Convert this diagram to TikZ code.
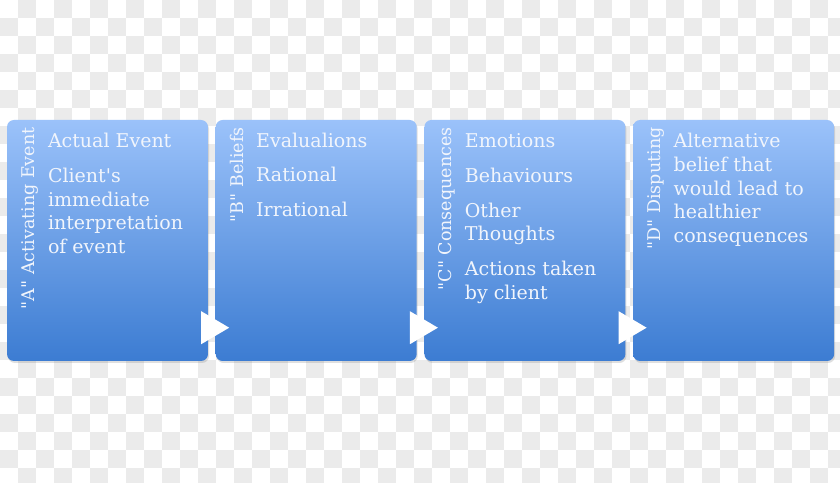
\documentclass[tikz,border=0pt]{standalone}
\usepackage{fontspec}
\setmainfont{DejaVu Serif}
\usetikzlibrary{positioning,calc,shadows}
\definecolor{boxtop}{RGB}{155,194,250}
\definecolor{boxbot}{RGB}{60,124,210}
\definecolor{labeltext}{RGB}{241,245,252}
\definecolor{checkgray}{RGB}{235,235,235}
% first-line baseline for stacked lines
\newcommand{\stack}[1]{\begin{tabular}[t]{@{}l@{}}#1\end{tabular}}

\begin{document}
\begin{tikzpicture}[
  x=1pt, y=1pt,
  stage/.style={rounded corners=7pt, minimum width=201pt, minimum height=241pt,
                inner sep=0pt, top color=boxtop, bottom color=boxbot,
                drop shadow={shadow xshift=1pt, shadow yshift=-2pt, opacity=.25}},
  tag/.style={rotate=90, anchor=base east, inner sep=0pt, text=labeltext,
              font=\fontsize{17.5}{21}\selectfont},
  items/.style={anchor=base west, inner sep=0pt, text=labeltext,
                font=\fontsize{19}{23.7}\selectfont},
  tri/.style={fill=white}
]
  \useasboundingbox (0,0) rectangle (840,482);
  % transparent backdrop
  \begin{scope}
    \clip (0,0) rectangle (840,482);
    \fill[white] (0,0) rectangle (840,482);
    \foreach \j in {0,...,26}
      \foreach \i in {0,2,...,46}
        \fill[checkgray] ({(\i+1-mod(\j,2))*18}, {482-\j*18}) rectangle ++(18,-18);
  \end{scope}

  % the four stages
  \node[stage] (actA) at (107.5,241.5) {};
  \node[stage, right=7.3pt of actA] (belB) {};
  \node[stage, right=7.3pt of belB] (conC) {};
  \node[stage, right=7.3pt of conC] (disD) {};

  % arrows between stages
  \foreach \b in {actA,belB,conC}
    \fill[tri] ($(\b.south east)+(-7,17)$) -- ++(28,16.5) -- ++(-28,16.5) -- cycle;

  % side labels
  \node[tag] (tagA) at ($(actA.north west)+(28,-7.5)$) {\textquotedbl A\textquotedbl{} Activating Event};
  \node[tag] (tagB) at ($(belB.north west)+(27.5,-7.5)$) {\textquotedbl B\textquotedbl{} Beliefs};
  \node[tag] (tagC) at ($(conC.north west)+(27.5,-7.5)$) {\textquotedbl C\textquotedbl{} Consequences};
  \node[tag] (tagD) at ($(disD.north west)+(27.5,-7.5)$) {\textquotedbl D\textquotedbl{} Disputing};

  % contents
  \node[items] (txtA) at ($(actA.north west)+(41,-28)$)
    {\stack{Actual Event\\[11pt]Client\textquotesingle s\\immediate\\interpretation\\of event}};
  \node[items] (txtB) at ($(belB.north west)+(40.5,-27.5)$)
    {\stack{Evalualions\\[11pt]Rational\\[11pt]Irrational}};
  \node[items] (txtC) at ($(conC.north west)+(40.5,-28)$)
    {\stack{Emotions\\[11pt]Behaviours\\[11pt]Other\\Thoughts\\[11pt]Actions taken\\by client}};
  \node[items] (txtD) at ($(disD.north west)+(40.5,-28)$)
    {\stack{Alternative\\belief that\\would lead to\\healthier\\consequences}};
\end{tikzpicture}
\end{document}
